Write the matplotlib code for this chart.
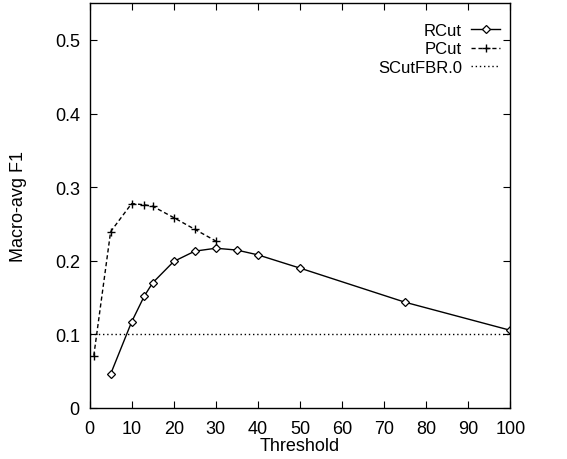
import matplotlib
matplotlib.use("Agg")
import matplotlib.pyplot as plt

plt.rcParams['font.family'] = ['Liberation Sans', 'DejaVu Sans']

# RCut
rcut_x = [5, 10, 13, 15, 20, 25, 30, 35, 40, 50, 75, 100]
rcut_y = [0.046, 0.117, 0.152, 0.170, 0.199, 0.213, 0.217, 0.2145, 0.208, 0.190, 0.1436, 0.1055]

# PCut
pcut_x = [1, 5, 10, 13, 15, 20, 25, 30]
pcut_y = [0.071, 0.2395, 0.2777, 0.276, 0.274, 0.2586, 0.2427, 0.2268]

# SCutFBR.0 (constant)
scut_x = [0, 100]
scut_y = [0.101, 0.101]

fig = plt.figure(figsize=(5.67, 4.6), dpi=100)
ax = fig.add_axes([0.158, 0.111, 0.742, 0.880])

ax.plot(rcut_x, rcut_y, color='black', lw=1, ls='-', marker='D', ms=4,
        mfc='white', mec='black', mew=0.9, label='RCut')
ax.plot(pcut_x, pcut_y, color='black', lw=1, ls=(0, (3, 2)), marker='+', ms=6,
        mew=1, label='PCut')
ax.plot(scut_x, scut_y, color='black', lw=1, ls=(0, (1, 2)), label='SCutFBR.0')

ax.set_xlim(0, 100)
ax.set_ylim(0, 0.55)
ax.set_xticks(range(0, 101, 10))
ax.set_yticks([0, 0.1, 0.2, 0.3, 0.4, 0.5])
ax.set_yticklabels(['0', '0.1', '0.2', '0.3', '0.4', '0.5'])
ax.tick_params(direction='in', top=True, right=True, length=5, labelsize=13)
ax.tick_params(axis='y', pad=7)
ax.tick_params(axis='x', pad=9)
for s in ax.spines.values():
    s.set_linewidth(1)

ax.set_xlabel('Threshold', fontsize=13, labelpad=0)
ax.set_ylabel('Macro-avg F1', fontsize=13, labelpad=20)

ax.legend(loc='upper right', markerfirst=False, frameon=False, fontsize=12,
          handlelength=1.75, handletextpad=0.55, labelspacing=0.23, numpoints=1,
          bbox_to_anchor=(0.976, 0.952), borderaxespad=0, borderpad=0)

fig.savefig('out.png', dpi=100)
